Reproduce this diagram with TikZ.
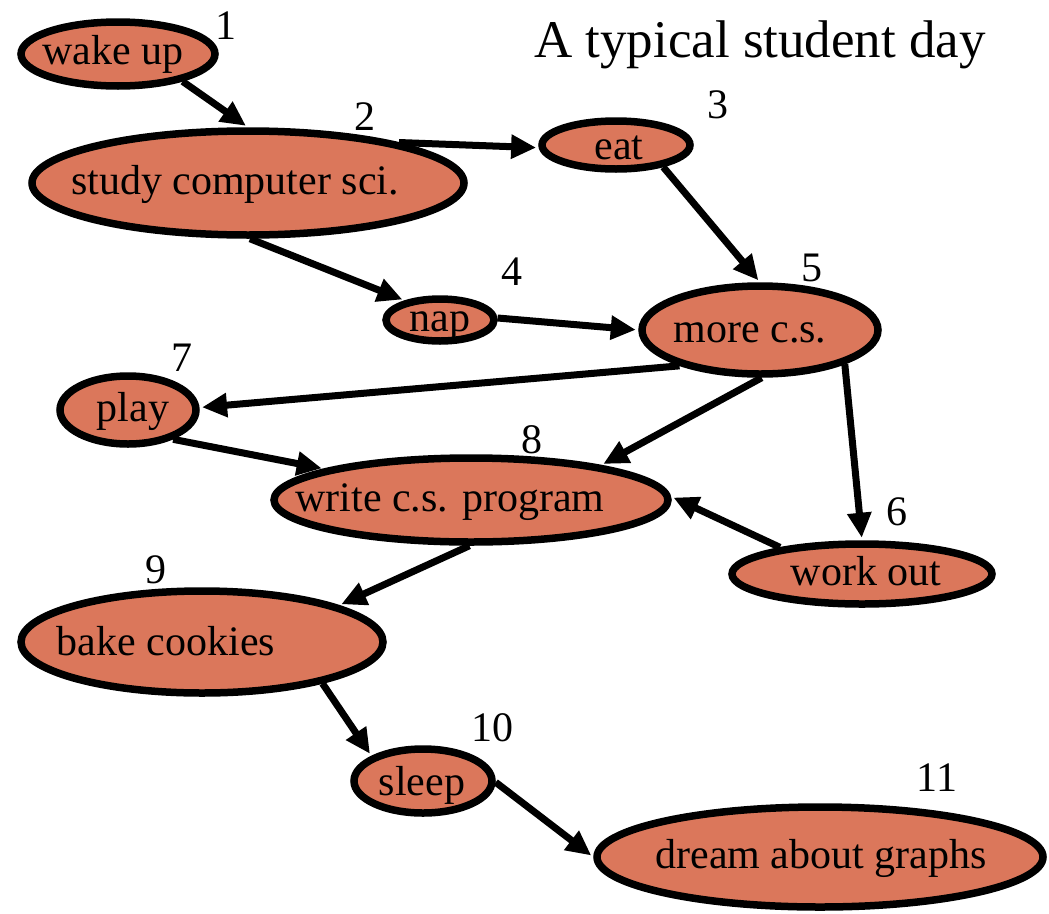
\documentclass[tikz,border=0pt]{standalone}
\usepackage{fontspec}
\setmainfont{Liberation Serif}
\usetikzlibrary{shapes.geometric,arrows.meta}
\definecolor{nodefill}{RGB}{219,119,91}
\begin{document}
\begin{tikzpicture}[x=1pt,y=-1pt,
  act/.style={ellipse,draw=black,line width=7.5pt,fill=nodefill,inner sep=0pt},
  txt/.style={inner sep=0pt,font=\fontsize{42}{48}\selectfont,text height=29pt,text depth=9pt},
  num/.style={inner sep=0pt,font=\fontsize{42}{48}\selectfont},
  edge/.style={line width=7pt,-{Triangle[length=25pt,width=23pt]},shorten >=2.5pt}
]
\useasboundingbox (0,0) rectangle (1049,913);

% activities
\node[act,minimum width=194pt,minimum height=64pt]  (wake)  at (118,54)  {};
\node[act,minimum width=432pt,minimum height=104pt] (study) at (248,183) {};
\node[act,minimum width=148pt,minimum height=48pt]  (eat)   at (616,145) {};
\node[act,minimum width=108pt,minimum height=42pt]  (nap)   at (440,320) {};
\node[act,minimum width=236pt,minimum height=88pt]  (more)  at (760,330) {};
\node[act,minimum width=136pt,minimum height=68pt]  (play)  at (128,410) {};
\node[act,minimum width=394pt,minimum height=84pt]  (write) at (471,500) {};
\node[act,minimum width=260pt,minimum height=60pt]  (work)  at (862,574) {};
\node[act,minimum width=362pt,minimum height=102pt] (bake)  at (202,642) {};
\node[act,minimum width=138pt,minimum height=64pt]  (sleep) at (423,781) {};
\node[act,minimum width=446pt,minimum height=100pt] (dream) at (820,857) {};

% activity names
\node[txt] (wake-t)  at (113,54)  {wake up};
\node[txt] (study-t) at (235,184) {study computer sci.};
\node[txt] (eat-t)   at (619,149) {eat};
\node[txt] (nap-t)   at (440,321) {nap};
\node[txt] (more-t)  at (750,332) {more c.s.};
\node[txt] (play-t)  at (133,411) {play};
\node[txt] (write-t) at (450,501) {write c.s. program};
\node[txt] (work-t)  at (866,575) {work out};
\node[txt] (bake-t)  at (166,645) {bake cookies};
\node[txt] (sleep-t) at (422,785) {sleep};
\node[txt] (dream-t) at (821,858) {dream about graphs};

% order numbers
\node[num] (n1)  at (226,26)  {1};
\node[num] (n2)  at (365,117) {2};
\node[num] (n3)  at (718,105) {3};
\node[num] (n4)  at (512,272) {4};
\node[num] (n5)  at (812,268) {5};
\node[num] (n6)  at (897,512) {6};
\node[num] (n7)  at (182,358) {7};
\node[num] (n8)  at (532,440) {8};
\node[num] (n9)  at (156,570) {9};
\node[num] (n10) at (492,728) {10};
\node[num] (n11) at (937,778) {11};

% title
\node[inner sep=0pt,font=\fontsize{53}{60}\selectfont] (title) at (760,45) {A typical student day};

% dependencies
\draw[edge] (wake.-23)  -- (study.90);
\draw[edge] (study.15)  -- (eat.182);
\draw[edge] (eat.-25)   -- (more.90);
\draw[edge] (study.-88) -- (nap.151);
\draw[edge] (nap.2)     -- (more.180);
\draw[edge] (more.204)  -- (play.2);
\draw[edge] (more.-88)  -- (write.15);
\draw[edge] (more.-22)  -- (work.90);
\draw[edge] (play.-33)  -- (write.168);
\draw[edge] (work.162)  -- (write.1);
\draw[edge] (write.-92) -- (bake.15);
\draw[edge] (bake.-19)  -- (sleep.154);
\draw[edge] (sleep.-1)  -- (dream.180);
\end{tikzpicture}
\end{document}
